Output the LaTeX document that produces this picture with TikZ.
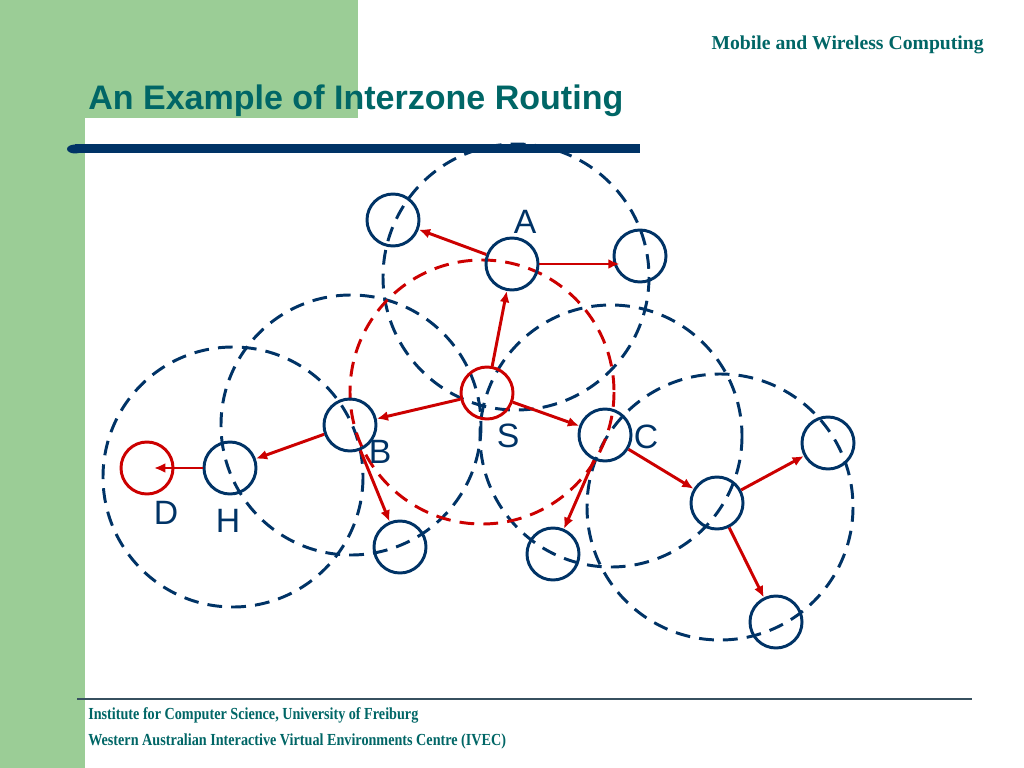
\documentclass[tikz,border=0pt]{standalone}
\usepackage{fontspec}
\setmainfont{Liberation Sans}
\newfontfamily\headfont{Liberation Serif}
\newfontfamily\footfont[FakeStretch=0.84]{Liberation Serif}
\usetikzlibrary{arrows.meta,positioning}
\definecolor{navy}{RGB}{0,51,102}
\definecolor{red}{RGB}{204,0,0}
\definecolor{leaf}{RGB}{155,205,150}
\definecolor{titlecol}{RGB}{0,102,102}
\definecolor{rulecol}{RGB}{55,80,95}

\begin{document}
\begin{tikzpicture}[x=0.025cm,y=-0.025cm,% 1 unit = 1 pixel of the slide
			zone/.style={draw=navy,line width=2.1pt,dash pattern=on 10.5pt off 6.5pt},
			host/.style={circle,draw=navy,line width=2.1pt,minimum size=1.3cm,inner sep=0pt},
			every edge/.style={draw=red,line width=2.1pt,-{Latex[length=8pt,width=7pt]}},
			tag/.style={text=navy,font=\fontsize{24}{26}\selectfont,inner sep=0pt}
		]
		\useasboundingbox[fill=white] (0,0) rectangle (1024,768);
		% slide frame
		\fill[leaf] (0,0) rectangle (85,768);
		\fill[leaf] (0,0) rectangle (358,118);
		\node[anchor=base west,text=titlecol,font=\fontsize{24.2}{28}\selectfont\bfseries,inner sep=0pt](title) at (88,110) {An Example of Interzone Routing};
		\node[anchor=base east,text=titlecol,font=\headfont\fontsize{14}{16}\selectfont\bfseries,inner sep=0pt](course) at (984,50) {Mobile and Wireless Computing};
		% zones
		\draw[zone] (516,277) circle[radius=133];
		\draw[zone] (351,425) circle[radius=130];
		\draw[zone] (233,477) circle[radius=130];
		\draw[zone] (611,436) circle[radius=131];
		\draw[zone] (720,507) circle[radius=133];
		\draw[zone,draw=red] (482,392) circle[radius=132];
		% bar under the title
		\fill[navy] (75,144.5) rectangle (640,153.5);
		\fill[navy] (75,149) ellipse[x radius=8,y radius=4.5];
		% hosts
		\node[host](a1) at (393,220) {};
		\node[host](A) at (512,264) {};
		\node[host](a2) at (640,256) {};
		\node[host,draw=red](S) at (487,393) {};
		\node[host](B) at (350,425) {};
		\node[host](H) at (230,468) {};
		\node[host,draw=red](D) at (147,468) {};
		\node[host](b1) at (400,547) {};
		\node[host](C) at (605,435) {};
		\node[host](c1) at (553,554) {};
		\node[host](E) at (717,503) {};
		\node[host](e1) at (828,443) {};
		\node[host](e2) at (776,622) {};
		\node[tag](tA) at (525,222) {A};
		\node[tag](tS) at (508,436) {S};
		\node[tag](tB) at (380,452) {B};
		\node[tag](tC) at (646,437) {C};
		\node[tag](tD) at (166,513) {D};
		\node[tag](tH) at (228,521) {H};
		% route requests
		\path
		(S)edge (A)
		(A)edge (a1)
		(A.east)edge [shorten >=-5pt] (a2.west |- A.east)
		(S)edge (B)
		(B)edge (H)
		(H)edge [shorten >=5pt] (D.center)
		(B)edge (b1)
		(S)edge (C)
		(C)edge (c1)
		(C)edge (E)
		(E)edge (e1)
		(E)edge (e2)
		;
		% footer
		\draw[rulecol,line width=1pt] (77,699) -- (972,699);
		\node[anchor=base west,text=titlecol,font=\footfont\fontsize{12}{14}\selectfont\bfseries,inner sep=0pt](inst) at (88,719) {Institute for Computer Science, University of Freiburg};
		\node[anchor=base west,text=titlecol,font=\footfont\fontsize{12}{14}\selectfont\bfseries,inner sep=0pt](ivec) at (88,745) {Western Australian Interactive Virtual Environments Centre (IVEC)};
	\end{tikzpicture}
\end{document}
